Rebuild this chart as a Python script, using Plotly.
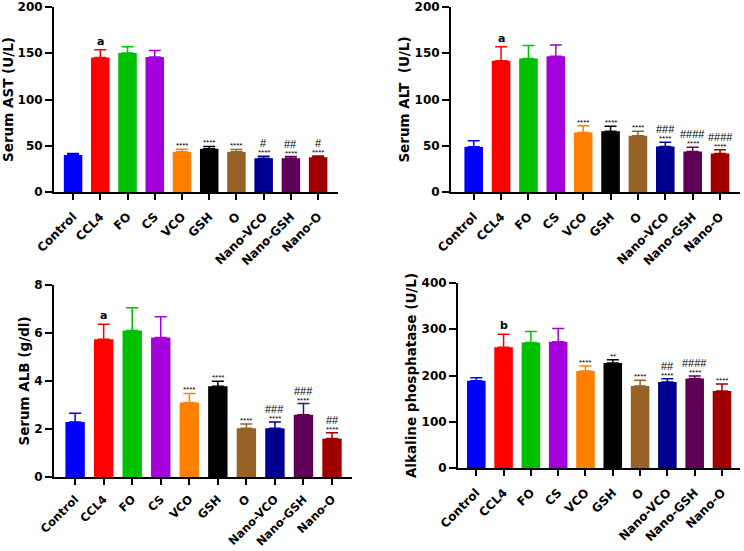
import plotly.graph_objects as go

categories = ["Control", "CCL4", "FO", "CS", "VCO", "GSH", "O", "Nano-VCO", "Nano-GSH", "Nano-O"]
colors = ["#0000FF", "#FF0000", "#00C000", "#A300DC", "#FF8000", "#000000",
          "#976226", "#000090", "#5E0055", "#A00000"]

ast = [40, 145.4, 150.4, 146, 43.4, 46.7, 43.4, 36.5, 36.5, 37.6]
ast_err = [1.6, 8.3, 6.6, 7, 2.9, 2.5, 2.6, 2.2, 1.8, 1.4]
alt = [48.8, 142, 144.3, 146.8, 64.4, 65.8, 60.8, 49.2, 43.8, 41.6]
alt_err = [6.5, 15, 14.1, 12, 7.2, 5.4, 5, 4.7, 4.7, 4]
alb = [2.29, 5.74, 6.1, 5.81, 3.1, 3.78, 2.03, 2.03, 2.59, 1.6]
alb_err = [0.37, 0.62, 0.95, 0.87, 0.38, 0.21, 0.18, 0.26, 0.47, 0.24]
alp = [188.4, 261, 271.6, 273, 209.6, 227, 177.5, 186, 193.5, 166.5]
alp_err = [6.6, 28, 23.4, 28.5, 10.9, 7, 12.5, 7, 5.2, 15.3]

ast_letters = ["", "a", "", "", "", "", "", "", "", ""]
ast_stars = ["", "", "", "", "****", "****", "****", "****", "****", "****"]
ast_hash = ["", "", "", "", "", "", "", "#", "##", "#"]
alt_letters = ["", "a", "", "", "", "", "", "", "", ""]
alt_stars = ["", "", "", "", "****", "****", "****", "****", "****", "****"]
alt_hash = ["", "", "", "", "", "", "", "###", "####", "####"]
alb_letters = ["", "a", "", "", "", "", "", "", "", ""]
alb_stars = ["", "", "", "", "****", "****", "****", "****", "****", "****"]
alb_hash = ["", "", "", "", "", "", "", "###", "###", "##"]
alp_letters = ["", "b", "", "", "", "", "", "", "", ""]
alp_stars = ["", "", "", "", "****", "**", "****", "****", "****", "****"]
alp_hash = ["", "", "", "", "", "", "", "##", "####", ""]

titles = ["Serum AST (U/L)", "Serum ALT\u00a0 (U/L)", "Serum ALB (g/dl)", "Alkaline phosphatase (U/L)"]
y_max = [200, 200, 8, 400]
y_dtick = [50, 50, 2, 100]

panels = [
    (ast, ast_err, ast_letters, ast_stars, ast_hash),
    (alt, alt_err, alt_letters, alt_stars, alt_hash),
    (alb, alb_err, alb_letters, alb_stars, alb_hash),
    (alp, alp_err, alp_letters, alp_stars, alp_hash),
]

W, H = 744, 551
# pixel boxes: (left, right, top, bottom)
boxes = [(54, 338, 7, 192), (451, 740, 7, 192), (54, 352, 285, 477), (458, 740, 283, 468)]
x_ranges = [(-0.70, 9.73), (-0.83, 9.73), (-0.74, 9.70), (-0.67, 9.66)]
xtick_size = [12, 12, 11.5, 12]
xtick_standoff = [5, 5, 3, 5]

FONT = "DejaVu Sans"
fig = go.Figure()
annotations = []

for p, (vals, errs, letters, stars, hashes) in enumerate(panels):
    xa = "x" if p == 0 else f"x{p+1}"
    ya = "y" if p == 0 else f"y{p+1}"
    for i, cat in enumerate(categories):
        fig.add_trace(go.Bar(
            x=[i], y=[vals[i]], xaxis=xa, yaxis=ya, width=0.68,
            marker=dict(color=colors[i], line=dict(width=0)),
            error_y=dict(type="data", symmetric=False, array=[errs[i]], arrayminus=[0],
                         color=colors[i], thickness=1.5, width=6),
            showlegend=False, hoverinfo="skip",
        ))
        top = vals[i] + errs[i]
        if letters[i]:
            annotations.append(dict(x=i, y=top, xref=xa, yref=ya, text=letters[i], showarrow=False,
                                    yanchor="bottom", yshift=0,
                                    font=dict(family=FONT, size=11, color="#000", weight="bold")))
        if stars[i]:
            annotations.append(dict(x=i, y=top, xref=xa, yref=ya, text=stars[i], showarrow=False,
                                    yanchor="bottom", yshift=-3,
                                    font=dict(family="Liberation Sans", size=8, color="#000")))
        if hashes[i]:
            annotations.append(dict(x=i, y=top, xref=xa, yref=ya, text=hashes[i], showarrow=False,
                                    yanchor="bottom", yshift=5,
                                    font=dict(family="Liberation Sans", size=11, color="#000")))

layout = dict(width=W, height=H, margin=dict(l=0, r=0, t=0, b=0, autoexpand=False),
              paper_bgcolor="white", plot_bgcolor="white", bargap=0.3,
              annotations=annotations)

for p in range(4):
    l, r, t, b = boxes[p]
    xk = "xaxis" if p == 0 else f"xaxis{p+1}"
    yk = "yaxis" if p == 0 else f"yaxis{p+1}"
    ya = "y" if p == 0 else f"y{p+1}"
    xa = "x" if p == 0 else f"x{p+1}"
    layout[xk] = dict(domain=[l / W, r / W], anchor=ya, range=list(x_ranges[p]), automargin=False,
                      tickmode="array", tickvals=list(range(len(categories))), ticktext=categories,
                      tickangle=-45, ticks="outside", ticklen=6, tickwidth=2, tickcolor="black",
                      ticklabelstandoff=xtick_standoff[p],
                      showline=True, linewidth=2, linecolor="black", showgrid=False, zeroline=False,
                      tickfont=dict(family=FONT, size=xtick_size[p], color="black", weight="bold"),
                      fixedrange=True)
    layout[yk] = dict(domain=[1 - b / H, 1 - t / H], anchor=xa, range=[0, y_max[p]], automargin=False,
                      dtick=y_dtick[p], tick0=0, ticks="outside", ticklen=7, tickwidth=2,
                      tickcolor="black", showline=True, linewidth=2, linecolor="black",
                      showgrid=False, zeroline=False,
                      tickfont=dict(family=FONT, size=12, color="black", weight="bold"),
                      title=dict(text=titles[p], standoff=2,
                                 font=dict(family=FONT, size=13.5, color="black", weight="bold")),
                      fixedrange=True)

fig.update_layout(**layout)
# the page body has a default 8px margin; remove it so the figure fills the window exactly
fig.write_html("out.html", config={"displayModeBar": False},
               post_script="document.body.style.margin='0';")
